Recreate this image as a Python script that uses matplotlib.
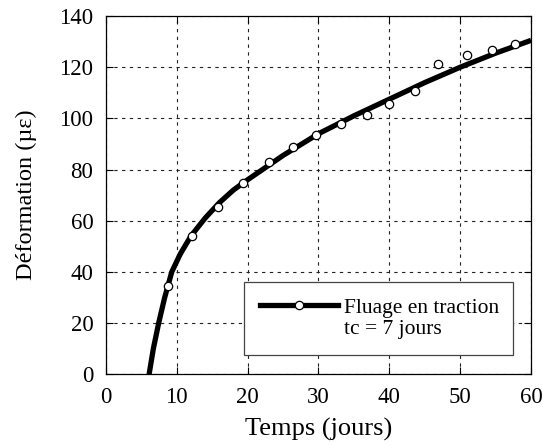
import matplotlib
matplotlib.use("Agg")
import matplotlib.pyplot as plt
from matplotlib.lines import Line2D

plt.rcParams['font.family'] = ['Liberation Serif', 'DejaVu Serif']

# measured points
meas_t = [8.7, 12.2, 15.8, 19.3, 23.0, 26.4, 29.6, 33.2, 36.9, 40.0, 43.6, 46.8, 50.9, 54.5, 57.8]
meas_eps = [34.3, 54.0, 65.3, 74.8, 82.9, 88.8, 93.5, 97.8, 101.2, 105.7, 110.6, 121.2, 124.8, 126.7, 129.0]

# fitted curve
fit_t = [6.1, 6.7, 7.45, 8.3, 9.3, 10.5, 12.0, 14.0, 16.0, 18.0, 20.0, 25.0, 30.0, 35.0, 40.0, 45.0, 50.0, 55.0, 60.0]
fit_eps = [0.0, 10.0, 20.0, 30.0, 40.0, 47.0, 54.0, 61.0, 67.0, 72.0, 76.0, 85.5, 94.0, 101.0, 107.5, 114.0, 120.0, 125.5, 130.5]

legend_lines = ['Fluage en traction', 'tc = 7 jours']

x_ticks = [0, 10, 20, 30, 40, 50, 60]
y_ticks = [0, 20, 40, 60, 80, 100, 120, 140]

fig = plt.figure(figsize=(5.43, 4.46), dpi=100)
ax = fig.add_axes([0.195, 0.161, 0.783, 0.803])

ax.plot(fit_t, fit_eps, color='black', lw=3.8, solid_capstyle='butt', solid_joinstyle='round', zorder=3)
ax.plot(meas_t, meas_eps, ls='none', marker='o', ms=6, mfc='white', mec='black', mew=0.9, zorder=4)

ax.set_xlim(0, 60)
ax.set_ylim(0, 140)
ax.set_xticks(x_ticks)
ax.set_yticks(y_ticks)
ax.grid(True, color='#222222', ls=(0, (3, 4)), lw=0.8)
ax.tick_params(direction='in', top=True, right=True, length=5, width=0.8, labelsize=16.5, pad=9)
for s in ax.spines.values():
    s.set_linewidth(0.9)

ax.set_xlabel('Temps (jours)', fontsize=19, labelpad=7)
ax.set_ylabel('Déformation (µε)', fontsize=17.5, labelpad=16)

handle = Line2D([], [], color='black', lw=3.8, marker='o', ms=6, mfc='white', mec='black', mew=0.9)
blank = Line2D([], [], color='none')
leg = ax.legend([handle, blank], legend_lines, loc='lower left',
                bbox_to_anchor=(0.325, 0.053, 0.633, 0.204), mode='expand',
                borderaxespad=0, fontsize=15.5, numpoints=1, handlelength=3.6, fancybox=False,
                framealpha=1, edgecolor='#444444', borderpad=0.75, handletextpad=0.3,
                labelspacing=0.05)
leg.get_frame().set_linewidth(0.9)

fig.savefig('out.png', dpi=100)
